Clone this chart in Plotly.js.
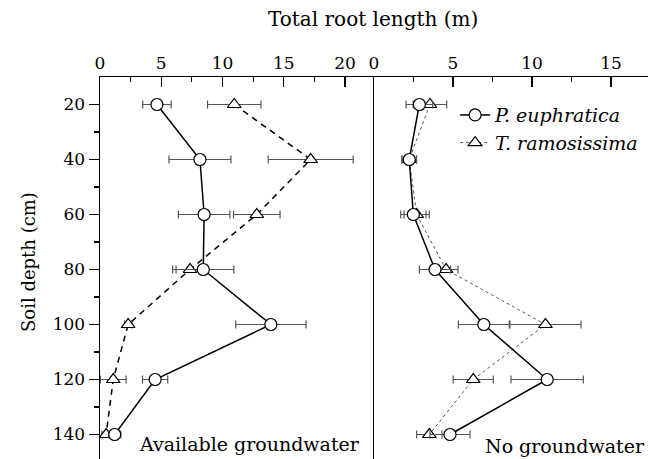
<!DOCTYPE html>
<html>
<head>
<meta charset="utf-8">
<script src="https://cdn.plot.ly/plotly-3.0.1.min.js"></script>
<style>html,body{margin:0;padding:0;background:#fff;}#chart{width:648px;height:459px;}</style>
</head>
<body>
<div id="chart"></div>
<script>
var depth = [20, 40, 60, 80, 100, 120, 140];
var peAvail = [4.65, 8.16, 8.5, 8.43, 13.95, 4.5, 1.2];
var peAvailErr = [1.16, 2.53, 2.1, 2.5, 2.87, 1.03, 0.5];
var trAvail = [10.96, 17.2, 12.8, 7.35, 2.3, 1.08, 0.5];
var trAvailErr = [2.18, 3.47, 1.9, 1.14, 0.3, 1.05, 0.35];
var peNo = [2.87, 2.23, 2.49, 3.86, 6.95, 10.96, 4.81];
var peNoErr = [0.84, 0.46, 0.8, 0.99, 1.61, 2.29, 1.27];
var trNo = [3.54, 2.23, 2.7, 4.56, 10.85, 6.28, 3.5];
var trNoErr = [1.06, 0.46, 0.8, 0.76, 2.25, 1.27, 0.8];

var FONT = 'DejaVu Serif';
function errX(arr) {
  return {type: 'data', array: arr, visible: true, color: '#555', thickness: 1.2, width: 4};
}
var circ = {symbol: 'circle', size: 12, color: 'white', line: {color: 'black', width: 1.2}};
var tri = {symbol: 'triangle-up', size: 12, color: 'white', line: {color: 'black', width: 1.2}};

var traces = [
  {x: trAvail, y: depth, xaxis: 'x', yaxis: 'y', mode: 'lines+markers', showlegend: false,
   line: {color: 'black', width: 1.5, dash: '6px,5px'}, marker: tri, error_x: errX(trAvailErr), cliponaxis: false},
  {x: peAvail, y: depth, xaxis: 'x', yaxis: 'y', mode: 'lines+markers', showlegend: false,
   line: {color: 'black', width: 1.5}, marker: circ, error_x: errX(peAvailErr), cliponaxis: false},
  {x: trNo, y: depth, xaxis: 'x2', yaxis: 'y2', mode: 'lines+markers', name: '<i>T. ramosissima</i>',
   line: {color: '#555', width: 1, dash: '3px,3px'}, marker: tri, error_x: errX(trNoErr), cliponaxis: false},
  {x: peNo, y: depth, xaxis: 'x2', yaxis: 'y2', mode: 'lines+markers', name: '<i>P. euphratica</i>',
   line: {color: 'black', width: 1.5}, marker: circ, error_x: errX(peNoErr), cliponaxis: false}
];

var xCommon = {
  side: 'top', dtick: 5, tick0: 0, ticks: 'inside', ticklen: 10, tickwidth: 1.2, tickcolor: 'black',
  minor: {dtick: 2.5, ticks: 'inside', ticklen: 5, tickwidth: 1.2, tickcolor: 'black'},
  showline: true, linecolor: 'black', linewidth: 1.5, mirror: false, showgrid: false, zeroline: false,
  tickfont: {family: FONT, size: 17, color: 'black'}
};

var layout = {
  width: 648, height: 459,
  margin: {l: 100, r: 0, t: 77, b: 0},
  font: {family: FONT, color: 'black'},
  paper_bgcolor: 'white', plot_bgcolor: 'white',
  showlegend: true,
  legend: {x: 0.648, y: 0.95, xanchor: 'left', yanchor: 'top', traceorder: 'reversed',
           font: {family: FONT, size: 19, color: 'black'}, bgcolor: 'rgba(0,0,0,0)'},
  xaxis: Object.assign({}, xCommon, {domain: [0, 0.5], range: [0, 22.37], anchor: 'y'}),
  xaxis2: Object.assign({}, xCommon, {domain: [0.5, 1], range: [0, 17.34], anchor: 'y2'}),
  yaxis: {range: [148.9, 10], tickvals: [20, 40, 60, 80, 100, 120, 140], ticks: 'outside', ticklen: 10,
          tickwidth: 1.2, tickcolor: 'black',
          minor: {tickvals: [30, 50, 70, 90, 110, 130, 150], ticks: 'outside', ticklen: 5, tickwidth: 1.2, tickcolor: 'black'},
          showline: true, linecolor: 'black', linewidth: 1.5, showgrid: false, zeroline: false,
          tickfont: {family: FONT, size: 17, color: 'black'}, anchor: 'x'},
  yaxis2: {range: [148.9, 10], showticklabels: false, ticks: '', showline: true, linecolor: 'black',
           linewidth: 1.5, showgrid: false, zeroline: false, anchor: 'x2'},
  annotations: [
    {text: 'Total root length (m)', xref: 'paper', yref: 'paper', x: 0.499, y: 1, yshift: 58,
     showarrow: false, font: {family: FONT, size: 20, color: 'black'}, xanchor: 'center', yanchor: 'middle'},
    {text: 'Soil depth (cm)', xref: 'paper', yref: 'paper', x: 0, xshift: -72, y: 0.5, yshift: 6, textangle: -90,
     showarrow: false, font: {family: FONT, size: 18, color: 'black'}, xanchor: 'center', yanchor: 'middle'},
    {text: 'Available groundwater', xref: 'paper', yref: 'paper', x: 0.273, y: 0, yshift: 15,
     showarrow: false, font: {family: FONT, size: 19, color: 'black'}, xanchor: 'center', yanchor: 'middle'},
    {text: 'No groundwater', xref: 'paper', yref: 'paper', x: 0.849, y: 0, yshift: 13,
     showarrow: false, font: {family: FONT, size: 19, color: 'black'}, xanchor: 'center', yanchor: 'middle'}
  ]
};

Plotly.newPlot('chart', traces, layout, {staticPlot: true, displayModeBar: false});
</script>
</body>
</html>
